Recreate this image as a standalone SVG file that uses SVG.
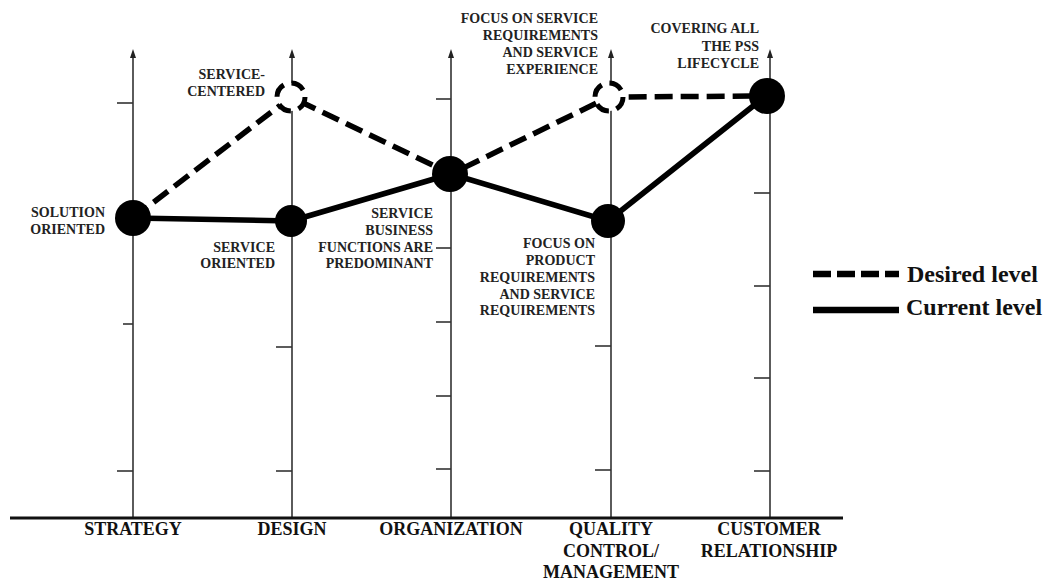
<svg xmlns="http://www.w3.org/2000/svg" width="1048" height="584" viewBox="0 0 1048 584">
<defs>
<style>
.axis{stroke:#333;stroke-width:1.6;fill:none}
.tick{stroke:#333;stroke-width:1.6}
.arr{fill:#222}
.base{stroke:#111;stroke-width:3}
.lbl{font-family:"Liberation Serif","Times New Roman",serif;font-weight:bold;font-size:14px;fill:#222;text-anchor:end}
.ax{font-family:"Liberation Serif","Times New Roman",serif;font-weight:bold;font-size:18px;fill:#111;text-anchor:middle}
.leg{font-family:"Liberation Serif","Times New Roman",serif;font-weight:bold;font-size:24px;fill:#111}
.desired{stroke:#000;stroke-width:5.5;fill:none;stroke-dasharray:18 8;stroke-linejoin:round}
.current{stroke:#000;stroke-width:5.5;fill:none;stroke-linejoin:round}
.filled{fill:#000}
.open{fill:#fff;stroke:#000;stroke-width:5;stroke-dasharray:14 8}
</style>
</defs>
<rect width="1048" height="584" fill="#fff"/>
<g id="axes">
<line class="axis" x1="133" y1="518" x2="133" y2="56"/>
<polygon class="arr" points="133,49 130,58 136,58"/>
<line class="tick" x1="117" y1="103" x2="133" y2="103"/>
<line class="tick" x1="123" y1="324" x2="133" y2="324"/>
<line class="tick" x1="117" y1="471" x2="133" y2="471"/>
<line class="axis" x1="292" y1="518" x2="292" y2="56"/>
<polygon class="arr" points="292,49 289,58 295,58"/>
<line class="tick" x1="276" y1="347" x2="292" y2="347"/>
<line class="tick" x1="276" y1="471" x2="292" y2="471"/>
<line class="axis" x1="451" y1="518" x2="451" y2="56"/>
<polygon class="arr" points="451,49 448,58 454,58"/>
<line class="tick" x1="436" y1="99" x2="451" y2="99"/>
<line class="tick" x1="436" y1="248" x2="451" y2="248"/>
<line class="tick" x1="436" y1="322" x2="451" y2="322"/>
<line class="tick" x1="436" y1="396" x2="451" y2="396"/>
<line class="tick" x1="436" y1="469" x2="451" y2="469"/>
<line class="axis" x1="611" y1="518" x2="611" y2="56"/>
<polygon class="arr" points="611,49 608,58 614,58"/>
<line class="tick" x1="595" y1="346" x2="611" y2="346"/>
<line class="tick" x1="595" y1="470" x2="611" y2="470"/>
<line class="axis" x1="770" y1="518" x2="770" y2="56"/>
<polygon class="arr" points="770,49 767,58 773,58"/>
<line class="tick" x1="754" y1="193" x2="770" y2="193"/>
<line class="tick" x1="754" y1="286" x2="770" y2="286"/>
<line class="tick" x1="754" y1="378" x2="770" y2="378"/>
<line class="tick" x1="754" y1="471" x2="770" y2="471"/>
<line class="base" x1="10" y1="518" x2="843" y2="518"/>
<text class="ax" x="133" y="535">STRATEGY</text>
<text class="ax" x="292" y="535">DESIGN</text>
<text class="ax" x="451" y="535">ORGANIZATION</text>
<text class="ax" x="611" y="535">QUALITY</text>
<text class="ax" x="611" y="557">CONTROL/</text>
<text class="ax" x="611" y="578">MANAGEMENT</text>
<text class="ax" x="769" y="535">CUSTOMER</text>
<text class="ax" x="769" y="557">RELATIONSHIP</text>
</g>
<g id="connectors">
<polyline class="desired" points="133,218 291,97 451,174 609,97 767,96"/>
<polyline class="current" points="133,218 291,221 451,174 608,221 767,95"/>
</g>
<g id="node-solution-oriented">
<circle class="filled" cx="133" cy="218" r="18"/>
<text class="lbl" x="105" y="217">SOLUTION</text>
<text class="lbl" x="105" y="234">ORIENTED</text>
</g>
<g id="node-service-centered">
<circle class="open" cx="291" cy="97" r="14"/>
<text class="lbl" x="265" y="79">SERVICE-</text>
<text class="lbl" x="265" y="96">CENTERED</text>
</g>
<g id="node-service-oriented">
<circle class="filled" cx="291" cy="221" r="16"/>
<text class="lbl" x="275" y="252">SERVICE</text>
<text class="lbl" x="275" y="268">ORIENTED</text>
</g>
<g id="node-service-business">
<circle class="filled" cx="450" cy="174" r="18"/>
<text class="lbl" x="433" y="218">SERVICE</text>
<text class="lbl" x="433" y="235">BUSINESS</text>
<text class="lbl" x="433" y="252">FUNCTIONS ARE</text>
<text class="lbl" x="433" y="268">PREDOMINANT</text>
</g>
<g id="node-focus-service">
<circle class="open" cx="609" cy="97" r="14"/>
<text class="lbl" x="598" y="23">FOCUS ON SERVICE</text>
<text class="lbl" x="598" y="40">REQUIREMENTS</text>
<text class="lbl" x="598" y="57">AND SERVICE</text>
<text class="lbl" x="598" y="74">EXPERIENCE</text>
</g>
<g id="node-focus-product">
<circle class="filled" cx="608" cy="221" r="17"/>
<text class="lbl" x="595" y="248">FOCUS ON</text>
<text class="lbl" x="595" y="265">PRODUCT</text>
<text class="lbl" x="595" y="282">REQUIREMENTS</text>
<text class="lbl" x="595" y="299">AND SERVICE</text>
<text class="lbl" x="595" y="315">REQUIREMENTS</text>
</g>
<g id="node-covering-lifecycle">
<circle class="filled" cx="767" cy="96" r="18"/>
<text class="lbl" x="759" y="33">COVERING ALL</text>
<text class="lbl" x="759" y="51">THE PSS</text>
<text class="lbl" x="759" y="68">LIFECYCLE</text>
</g>
<g id="legend">
<line x1="813" y1="274" x2="899" y2="274" stroke="#000" stroke-width="6.5" stroke-dasharray="18 6"/>
<text class="leg" x="907" y="282">Desired level</text>
<line x1="813" y1="310" x2="899" y2="310" stroke="#000" stroke-width="6.5"/>
<text class="leg" x="906" y="315">Current level</text>
</g>
</svg>
